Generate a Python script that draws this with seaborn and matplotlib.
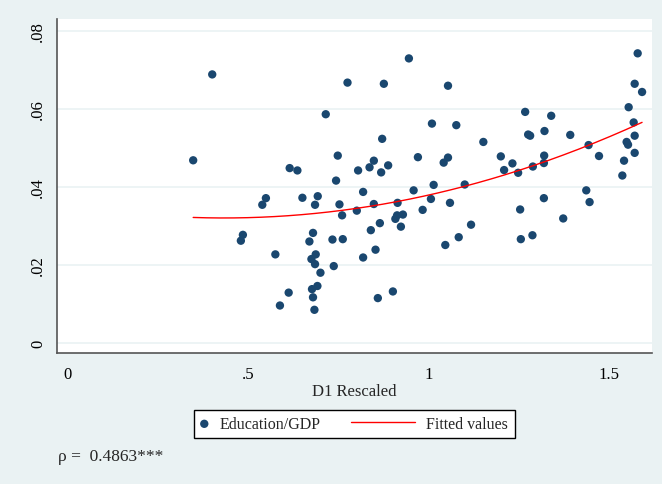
import numpy as np
import pandas as pd
import matplotlib
matplotlib.use("Agg")
import matplotlib.pyplot as plt
from matplotlib.legend_handler import HandlerPathCollection
import seaborn as sns

# D1 Rescaled (x) and Education/GDP (y)
d1 = [0.4006, 0.7756, 0.8764, 0.7153, 0.8717, 0.3478, 0.7486, 0.8486, 0.8367, 0.8883,
      0.8689, 0.6153, 0.6367, 0.8050, 0.7439, 0.8189, 0.5494, 0.5394, 0.6506, 0.6931,
      0.6856, 0.7533, 0.7606, 0.8014, 0.8486, 0.9144, 0.9083, 0.9131, 0.9292, 0.9236,
      0.8653, 0.8403, 0.4856, 0.4800, 0.6800, 0.6700, 0.7339, 0.7625, 0.5756, 0.6875,
      0.6756, 0.6856, 0.7375, 0.8189, 0.8533, 0.7006, 0.6125, 0.6922, 0.6772, 0.6800,
      0.5883, 0.6839, 0.8597, 0.9014,
      0.9458, 1.0542, 1.0097, 1.0772, 0.9708, 1.0422, 1.0542, 1.1522, 0.9589, 1.0144,
      1.1006, 1.0069, 1.0597, 0.9839, 1.1181, 1.0839, 1.0467,
      1.2681, 1.3403, 1.2764, 1.2819, 1.3217, 1.3931, 1.2006, 1.2328, 1.2097, 1.2486,
      1.2894, 1.3208, 1.3200, 1.4439, 1.4728, 1.4375, 1.4467, 1.3200, 1.2542, 1.3736,
      1.2561, 1.2883, 1.5800, 1.5717, 1.5922, 1.5550, 1.5689, 1.5717, 1.5494, 1.5533,
      1.5717, 1.5422, 1.5375]
edu_gdp = [0.0688, 0.0667, 0.0664, 0.0586, 0.0523, 0.0468, 0.0480, 0.0467, 0.0450, 0.0455,
           0.0437, 0.0448, 0.0442, 0.0442, 0.0416, 0.0387, 0.0371, 0.0354, 0.0372, 0.0376,
           0.0354, 0.0355, 0.0327, 0.0339, 0.0356, 0.0359, 0.0318, 0.0327, 0.0329, 0.0298,
           0.0307, 0.0289, 0.0277, 0.0262, 0.0282, 0.0260, 0.0265, 0.0266, 0.0227, 0.0227,
           0.0215, 0.0202, 0.0197, 0.0219, 0.0239, 0.0180, 0.0129, 0.0146, 0.0138, 0.0117,
           0.0096, 0.0085, 0.0115, 0.0132,
           0.0729, 0.0659, 0.0562, 0.0558, 0.0476, 0.0462, 0.0475, 0.0515, 0.0391, 0.0405,
           0.0406, 0.0369, 0.0359, 0.0341, 0.0303, 0.0271, 0.0251,
           0.0592, 0.0582, 0.0534, 0.0531, 0.0543, 0.0533, 0.0478, 0.0460, 0.0443, 0.0436,
           0.0452, 0.0480, 0.0461, 0.0507, 0.0479, 0.0391, 0.0361, 0.0371, 0.0342, 0.0319,
           0.0266, 0.0276, 0.0742, 0.0664, 0.0643, 0.0604, 0.0565, 0.0531, 0.0515, 0.0508,
           0.0487, 0.0467, 0.0429]

x_ticks = [0, 0.5, 1, 1.5]
x_tick_labels = ["0", ".5", "1", "1.5"]
y_ticks = [0, 0.02, 0.04, 0.06, 0.08]
y_tick_labels = ["0", ".02", ".04", ".06", ".08"]
rho_text = "ρ =  0.4863***"

df = pd.DataFrame({"D1 Rescaled": d1, "Education/GDP": edu_gdp})

# quadratic fit (Stata qfit)
coef = np.polyfit(df["D1 Rescaled"], df["Education/GDP"], 2)
xs = np.linspace(df["D1 Rescaled"].min(), df["D1 Rescaled"].max(), 200)
fit = pd.DataFrame({"x": xs, "y": np.polyval(coef, xs)})

sns.set_theme(style="white")
plt.rcParams["font.family"] = ["Liberation Serif", "DejaVu Serif"]

BG = "#EAF2F3"
NAVY = "#1a476f"


class NarrowMarkerHandler(HandlerPathCollection):
    """Scatter legend handle that occupies only a narrow slot."""
    def legend_artist(self, legend, orig_handle, fontsize, handlebox):
        handlebox.width = fontsize * 0.45
        return super().legend_artist(legend, orig_handle, fontsize, handlebox)


fig = plt.figure(figsize=(6.62, 4.85), dpi=100, facecolor=BG)
ax = fig.add_axes([0.0866, 0.2695, 0.9845 - 0.0866, 0.9588 - 0.2695])
ax.set_facecolor("white")

for yv in y_ticks:
    ax.axhline(yv, color=BG, lw=1.2, zorder=0)

sns.scatterplot(data=df, x="D1 Rescaled", y="Education/GDP", ax=ax, color=NAVY,
                s=36, edgecolor="none", label="Education/GDP", zorder=3, legend=False)
sns.lineplot(data=fit, x="x", y="y", ax=ax, color="red", lw=1.0,
             label="Fitted values", zorder=4, legend=False)

ax.set_xlim(-0.0288, 1.619)
ax.set_ylim(-0.00264, 0.0830)
ax.set_xticks(x_ticks)
ax.set_xticklabels(x_tick_labels)
ax.set_yticks(y_ticks)
ax.set_yticklabels(y_tick_labels, rotation=90, va="center")
ax.tick_params(axis="both", direction="out", length=5.5, width=0.8, color="#333333",
               labelsize=12, labelcolor="black", pad=2.5)
ax.tick_params(axis="x", pad=3.5)

for side in ["top", "right"]:
    ax.spines[side].set_visible(False)
for side in ["left", "bottom"]:
    ax.spines[side].set_color("#555555")
    ax.spines[side].set_linewidth(1.2)

ax.set_xlabel("D1 Rescaled", fontsize=12, labelpad=1)
ax.set_ylabel("")

handles, labels = ax.get_legend_handles_labels()
scat_handle = handles[0]
leg = fig.legend(handles, labels, loc="center", bbox_to_anchor=(0.5355, 0.1237),
                 ncol=2, frameon=True, fancybox=False, edgecolor="black",
                 facecolor="white", fontsize=11.5, handlelength=4.0,
                 columnspacing=1.94, handletextpad=0.71, borderpad=0.4,
                 handler_map={type(scat_handle): NarrowMarkerHandler()})
leg.get_frame().set_linewidth(1.0)
leg.get_frame().set_alpha(1)

fig.text(58 / 662, 1 - 457 / 485, rho_text, fontsize=12.5, va="center", ha="left")

fig.savefig("out.png", dpi=100, facecolor=BG)
